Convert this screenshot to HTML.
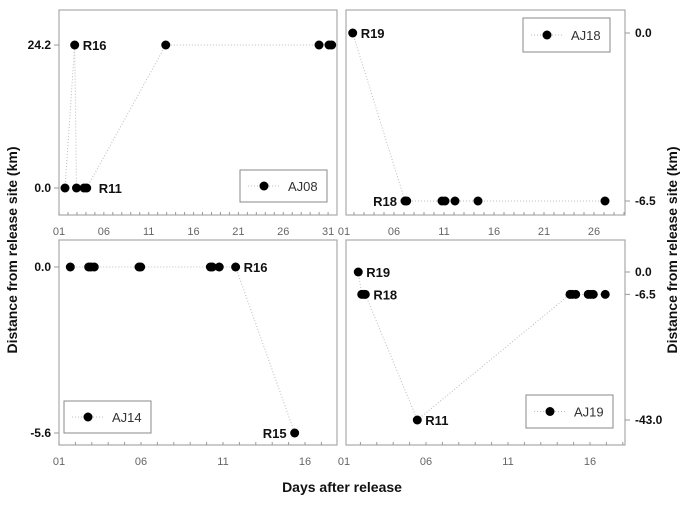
<!DOCTYPE html>
<html><head><meta charset="utf-8"><style>
body{margin:0;background:#fff;}
svg{font-family:"Liberation Sans",Arial,sans-serif;}
</style></head><body>
<svg id="c" width="685" height="500" xmlns="http://www.w3.org/2000/svg">
<text x="342" y="492" text-anchor="middle" font-size="14" font-weight="bold" fill="#111">Days after release</text>
<text transform="translate(17,250) rotate(-90)" text-anchor="middle" font-size="14" font-weight="bold" fill="#111">Distance from release site (km)</text>
<text transform="translate(677,250) rotate(-90)" text-anchor="middle" font-size="14" font-weight="bold" fill="#111">Distance from release site (km)</text>
</svg>
<script>
// AJ08
const aj08Days=[1.67,2.75,2.95,3.79,4.09,12.9,29.99,31.1,31.4];
const aj08Dist=[0,24.2,0,0,0,24.2,24.2,24.2,24.2];
// AJ18
const aj18Days=[1.87,7.1,7.27,10.8,11.1,12.1,14.4,27.1];
const aj18Dist=[0,-6.5,-6.5,-6.5,-6.5,-6.5,-6.5,-6.5];
// AJ14
const aj14Days=[1.69,2.81,2.95,3.15,5.88,5.98,10.23,10.35,10.77,11.77,15.37];
const aj14Dist=[0,0,0,0,0,0,0,0,0,0,-5.6];
// AJ19
const aj19Days=[1.87,2.08,2.22,2.30,5.47,14.78,14.92,15.13,15.89,16.04,16.2,16.93];
const aj19Dist=[0,-6.5,-6.5,-6.5,-43,-6.5,-6.5,-6.5,-6.5,-6.5,-6.5,-6.5];
const aj08XTicks=["01","06","11","16","21","26","31"];
const aj18XTicks=["01","06","11","16","21","26"];
const smallXTicks=["01","06","11","16"];
const aj08YTicks=[0,24.2], aj18YTicks=[0,-6.5], aj14YTicks=[0,-5.6], aj19YTicks=[0,-6.5,-43];

const NS="http://www.w3.org/2000/svg", svg=document.getElementById('c');
function mk(tag,a,p){const e=document.createElementNS(NS,tag);for(const k in a)e.setAttribute(k,a[k]);(p||svg).appendChild(e);return e;}

const panels=[
 {id:'aj08',days:aj08Days,dist:aj08Dist,xt:aj08XTicks,yt:aj08YTicks,box:[59,10,337,215],d0:59,ppd:8.97,v0:0,y0:188,v1:24.2,y1:45,right:false,
  leg:[240,170,87,32],labels:[[1,'R16','start',8],[4,'R11','start',12]]},
 {id:'aj18',days:aj18Days,dist:aj18Dist,xt:aj18XTicks,yt:aj18YTicks,box:[346,10,625,215],d0:344,ppd:10,v0:0,y0:33,v1:-6.5,y1:201,right:true,
  leg:[523,18,87,34],labels:[[0,'R19','start',8],[1,'R18','end',-8]]},
 {id:'aj14',days:aj14Days,dist:aj14Dist,xt:smallXTicks,yt:aj14YTicks,box:[59,240,337,445],d0:59,ppd:16.4,v0:0,y0:267,v1:-5.6,y1:433,right:false,
  leg:[64,401,87,32],labels:[[9,'R16','start',8],[10,'R15','end',-8]]},
 {id:'aj19',days:aj19Days,dist:aj19Dist,xt:smallXTicks,yt:aj19YTicks,box:[346,240,625,445],d0:344,ppd:16.4,v0:0,y0:272,v1:-43,y1:420,right:true,
  leg:[526,395,87,33],labels:[[0,'R19','start',8],[3,'R18','start',8],[4,'R11','start',8]]}
];
panels.forEach(p=>{
  const g=mk('g',{});
  
  
  const X=d=>p.d0+(d-1)*p.ppd, Y=v=>p.y0+(v-p.v0)*(p.y1-p.y0)/(p.v1-p.v0);
  const [l,t,r,b]=p.box;
  const fr=mk('rect',{x:l,y:t,width:r-l,height:b-t,fill:'none',stroke:'#aaa','stroke-width':1.2},g);
  
  
  for(let d=1;X(d)<=r;d++){ if(X(d)<l) continue; mk('line',{x1:X(d),x2:X(d),y1:b,y2:b-3,stroke:'#999'},g);}
  p.xt.forEach(s=>{const tx=mk('text',{x:X(+s),y:b+20,'text-anchor':'middle','font-size':11,fill:'#666'},g);tx.textContent=s;
    
    });
  p.yt.forEach(v=>{const y=Y(v);
    if(p.right){mk('line',{x1:r,x2:r+5,y1:y,y2:y,stroke:'#999'},g);}
    else{mk('line',{x1:l-5,x2:l,y1:y,y2:y,stroke:'#999'},g);}
    const tx=mk('text',{x:p.right?r+10:l-8,y:y+4,'text-anchor':p.right?'start':'end','font-size':12,'font-weight':'bold',fill:'#111'},g);
    tx.textContent=v.toFixed(1);
    
    });
  const pts=p.days.map((d,i)=>X(d)+','+Y(p.dist[i])).join(' ');
  const pl=mk('polyline',{points:pts,fill:'none',stroke:'#bbb','stroke-dasharray':'1,2','stroke-width':1},g);
  
  
  p.days.forEach((d,i)=>{const c=mk('circle',{cx:X(d),cy:Y(p.dist[i]),r:4.5,fill:'#000'},g);
    
    });
  p.labels.forEach(([i,s,anch,off])=>{const x=X(p.days[i])+off;
    const tx=mk('text',{x:x,y:Y(p.dist[i])+5,'text-anchor':anch,'font-size':13,'font-weight':'bold',fill:'#111'},g);
    tx.textContent=s;
    
    });
  const [lx,ly,lw,lh]=p.leg;
  const lg=mk('g',{},g);
  
  
  mk('rect',{x:lx,y:ly,width:lw,height:lh,fill:'#fff',stroke:'#888'},lg);
  mk('line',{x1:lx+8,x2:lx+40,y1:ly+lh/2,y2:ly+lh/2,stroke:'#bbb','stroke-dasharray':'1,2'},lg);
  mk('circle',{cx:lx+24,cy:ly+lh/2,r:4.5,fill:'#000'},lg);
  const lt=mk('text',{x:lx+48,y:ly+lh/2+5,'font-size':13,fill:'#333'},lg);lt.textContent=p.id.toUpperCase();
});
</script>
</body></html>
